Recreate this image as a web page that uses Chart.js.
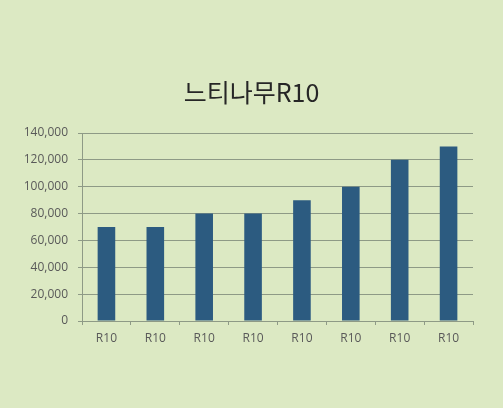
<!DOCTYPE html>
<html>
<head>
<meta charset="utf-8">
<script src="https://cdn.jsdelivr.net/npm/chart.js@4"></script>
<style>
  html, body { margin: 0; padding: 0; background: #dce9c3; }
  #wrap { width: 503px; height: 408px; }
</style>
</head>
<body>
<div id="wrap"><canvas id="myChart" width="503" height="408"></canvas></div>
<script>
// chart data
const categories = ["R10", "R10", "R10", "R10", "R10", "R10", "R10", "R10"];
const values = [70000, 70000, 80000, 80000, 90000, 100000, 120000, 130000];
const yTicks = [0, 20000, 40000, 60000, 80000, 100000, 120000, 140000];
const chartTitle = "느티나무R10";

const gridColor = "#8e9a86";

// title centred on the whole canvas, not on the plot
const centerTitle = {
    id: "centerTitle",
    afterDraw(chart) {
        const c = chart.ctx;
        c.save();
        c.font = "25px 'Noto Sans CJK KR', 'Noto Sans', sans-serif";
        c.fillStyle = "#262626";
        c.textAlign = "center";
        c.textBaseline = "middle";
        c.fillText(chartTitle, chart.width / 2, 92);
        c.restore();
    }
};

const ctx = document.getElementById("myChart").getContext("2d");
new Chart(ctx, {
    type: "bar",
    data: {
        labels: categories,
        datasets: [{
            data: values,
            backgroundColor: "#2c5b80",
            barPercentage: 0.36,
            categoryPercentage: 1.0
        }]
    },
    options: {
        responsive: false,
        animation: false,
        layout: { padding: { left: 0, right: 30, top: 133, bottom: 40 } },
        plugins: {
            legend: { display: false },
            tooltip: { enabled: false },
            title: { display: false }
        },
        scales: {
            x: {
                afterFit: (s) => { s.height = 47; },
                grid: {
                    drawOnChartArea: false,
                    drawTicks: true,
                    tickLength: 4,
                    color: gridColor
                },
                border: { color: gridColor, width: 1 },
                ticks: {
                    color: "#595959",
                    padding: 6,
                    font: { family: "'Open Sans', 'Noto Sans', sans-serif", size: 12 }
                }
            },
            y: {
                min: 0,
                max: 140000,
                afterFit: (s) => { s.width = 82; },
                afterBuildTicks: (s) => { s.ticks = yTicks.map(v => ({ value: v })); },
                grid: {
                    color: gridColor,
                    tickLength: 4
                },
                border: { color: gridColor, width: 1 },
                ticks: {
                    color: "#595959",
                    padding: 10,
                    font: { family: "'Open Sans', 'Noto Sans', sans-serif", size: 12 },
                    callback: (v) => v.toLocaleString("en-US")
                }
            }
        }
    },
    plugins: [centerTitle]
});
</script>
</body>
</html>
